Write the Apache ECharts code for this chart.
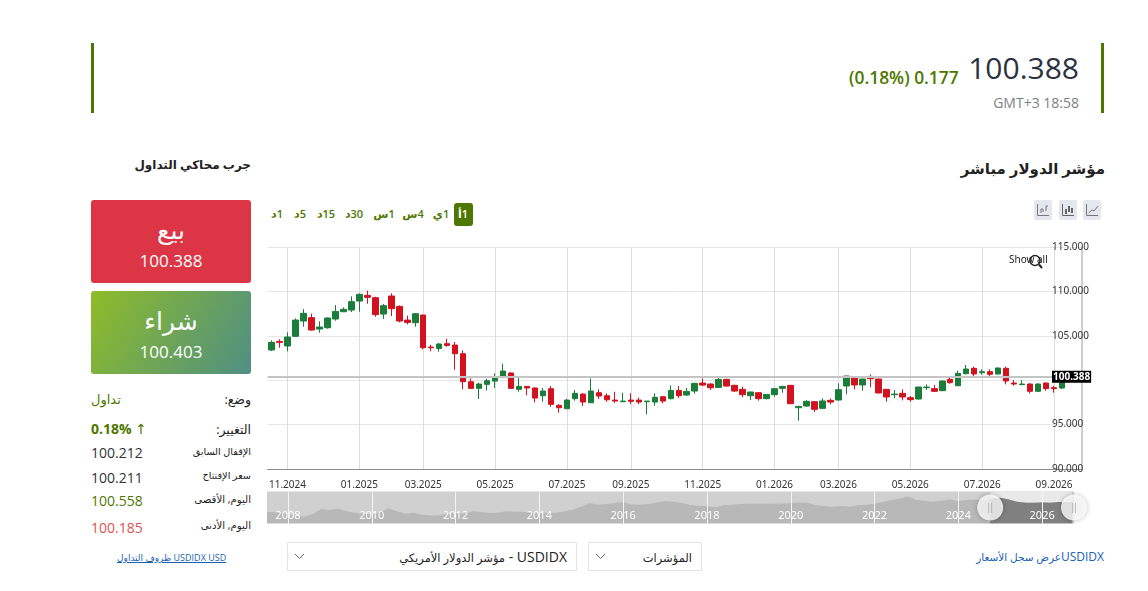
<!DOCTYPE html>
<html lang="ar">
<head>
<meta charset="utf-8">
<title>USDIDX</title>
<script src="https://cdn.jsdelivr.net/npm/echarts@6/dist/echarts.min.js"></script>
<style>
html,body{margin:0;padding:0;background:#fff;}
body{width:1148px;height:591px;position:relative;overflow:hidden;font-family:"Open Sans","DejaVu Sans",sans-serif;color:#222;}
.abs{position:absolute;white-space:nowrap;line-height:1;}
.r{direction:rtl;text-align:right;}
.bar{position:absolute;top:43px;width:3px;height:70px;background:#4e7700;}
.btn{position:absolute;left:91px;width:160px;height:83px;border-radius:3px;color:#fff;text-align:center;}
.btn b{position:absolute;left:0;width:100%;top:15px;font-weight:400;font-size:25px;line-height:28px;}
.btn i{position:absolute;left:0;width:100%;top:50px;font-style:normal;font-size:17px;line-height:22px;}
.tf{position:absolute;top:208px;font-size:11px;line-height:12px;color:#4e7700;transform:translateX(-50%);direction:rtl;font-weight:600;}
.ico{position:absolute;top:200px;width:18px;height:20px;background:#e4e8ee;border-radius:2px;}
.ico svg{position:absolute;left:2px;top:3px;}
.sel{position:absolute;top:542px;height:27px;border:1px solid #e2e5e8;}
.sel svg{position:absolute;left:6px;top:10px;}
.sel span{position:absolute;right:9px;top:6px;font-size:14px;line-height:16px;direction:rtl;white-space:nowrap;color:#222;}
.sel em{font-style:normal;font-size:11.5px;}
.lab{font-size:9.7px;}
.num{left:91px;font-size:14px;color:#333;}
#chart{position:absolute;left:266px;top:240px;width:834px;height:295px;}
</style>
</head>
<body>
<div class="bar" style="left:91px"></div>
<div class="bar" style="left:1101px"></div>
<div class="abs" style="right:69px;top:53px;font-size:30px;color:#2b3240;">100.388</div>
<div class="abs" style="left:849px;top:69px;font-size:17.4px;font-weight:600;color:#4e7700;direction:ltr;">(0.18%) 0.177</div>
<div class="abs" style="right:69px;top:96px;font-size:14px;color:#7d7f85;">GMT+3 18:58</div>

<div class="abs r" style="right:43px;top:161px;font-size:15px;font-weight:700;">مؤشر الدولار مباشر</div>
<div class="abs r" style="right:897px;top:159px;font-size:12px;font-weight:700;">جرب محاكي التداول</div>

<div class="btn" style="top:200px;background:#dc3545;"><b>بيع</b><i>100.388</i></div>
<div class="btn" style="top:291px;background:linear-gradient(120deg,#8ebc28,#4f8f84);"><b>شراء</b><i>100.403</i></div>

<div class="abs r" style="right:897px;top:394px;font-size:12.5px;">وضع:</div>
<div class="abs" style="left:91px;top:393px;font-size:13px;color:#4e7700;">تداول</div>
<div class="abs r" style="right:897px;top:424px;font-size:12.5px;">التغيير:</div>
<div class="abs" style="left:91px;top:422px;font-size:14px;font-weight:700;color:#4e7700;">0.18% <span style="font-weight:400">↑</span></div>
<div class="abs r lab" style="right:897px;top:447px;">الإقفال السابق</div>
<div class="abs num" style="top:446px;">100.212</div>
<div class="abs r lab" style="right:897px;top:471px;">سعر الإفتتاح</div>
<div class="abs num" style="top:471px;">100.211</div>
<div class="abs r lab" style="right:897px;top:494px;font-size:10.2px;">اليوم, الأقصى</div>
<div class="abs num" style="top:494px;color:#4e7700;">100.558</div>
<div class="abs r lab" style="right:897px;top:520px;font-size:10.2px;">اليوم, الأدنى</div>
<div class="abs num" style="top:521px;color:#d9534f;">100.185</div>
<div class="abs" style="left:117px;top:553px;font-size:9px;color:#1a5fb4;text-decoration:underline;direction:ltr;"><span dir="rtl">ظروف التداول</span> USDIDX USD</div>

<div id="tfs"></div>
<div style="position:absolute;left:454px;top:203px;width:19px;height:23px;background:#4e7700;border-radius:3px;"></div>

<div class="ico" style="left:1034px"><svg width="14" height="14" viewBox="0 0 14 14" fill="none" stroke="#777" stroke-width="1"><path d="M1.5 1v11.5H13M5 10V6h2v3M10 8V3h2"/></svg></div>
<div class="ico" style="left:1059px"><svg width="14" height="14" viewBox="0 0 14 14" fill="none" stroke="#666" stroke-width="1"><path d="M1.5 1v11.5H13"/><path d="M5 6v5M8 3v6M11 5v5" stroke-width="2"/></svg></div>
<div class="ico" style="left:1083px"><svg width="14" height="14" viewBox="0 0 14 14" fill="none" stroke="#777" stroke-width="1"><path d="M1.5 1v11.5H13M3.5 10L7 7l2 1 4-5"/></svg></div>

<div id="chart"></div>

<div class="sel" style="left:287px;width:288px;">
<svg width="11" height="7" viewBox="0 0 11 7" fill="none" stroke="#666"><path d="M1 1l4.5 4.5L10 1"/></svg>
<span>USDIDX - <em>مؤشر الدولار الأمريكي</em></span></div>
<div class="sel" style="left:588px;width:112px;">
<svg width="11" height="7" viewBox="0 0 11 7" fill="none" stroke="#666"><path d="M1 1l4.5 4.5L10 1"/></svg>
<span><em>المؤشرات</em></span></div>
<div class="abs" style="right:44px;top:551px;font-size:12px;color:#1a5fb4;direction:ltr;"><span dir="rtl" style="font-size:10.5px">عرض سجل الأسعار</span>USDIDX</div>

<script>
// weekly candles
const opens = [103.40,104.37,103.85,104.94,106.66,107.04,105.76,105.91,106.89,107.71,
  107.90,108.91,109.55,109.29,107.45,109.48,108.31,106.77,106.47,107.34,
  103.73,103.58,104.11,103.96,102.98,99.83,99.08,99.53,99.90,100.32,
  100.81,98.97,99.30,99.12,98.25,99.04,97.16,96.79,97.92,98.44,
  97.46,98.59,98.25,97.76,97.58,97.76,97.76,97.58,97.54,98.14,
  97.92,98.85,98.33,98.78,99.68,99.57,99.19,100.09,99.42,98.97,
  98.25,98.59,97.92,98.37,99.08,99.42,96.90,97.09,97.58,96.83,
  97.73,97.77,99.35,100.36,99.46,100.36,100.13,98.97,98.37,98.52,
  98.03,97.88,99.16,99.05,98.82,100.10,99.38,100.73,101.34,100.85,
  100.96,100.70,101.34,99.68,99.50,99.57,98.75,99.68,99.16,99.12];
const closes = [104.26,104.26,104.86,106.77,107.53,105.65,105.99,107.00,107.75,107.98,
  108.84,109.67,109.33,107.38,108.39,108.05,106.66,106.51,107.49,103.66,
  103.66,104.07,103.92,102.98,99.83,99.08,99.57,99.94,100.36,101.03,
  99.08,99.30,99.12,97.99,98.78,97.28,96.90,97.76,98.52,97.54,
  98.78,98.22,97.80,97.65,97.65,97.62,97.54,97.65,98.07,97.65,
  98.85,98.25,98.74,99.64,99.45,99.15,100.09,99.34,98.78,98.37,
  98.67,97.92,98.40,99.04,99.30,97.35,97.05,97.62,96.72,97.66,
  97.54,98.93,100.47,99.46,100.13,100.17,98.56,98.11,98.44,98.11,
  97.81,99.23,99.23,98.75,99.91,99.72,100.77,101.26,100.70,100.96,
  100.66,101.37,99.91,99.57,99.57,98.75,99.57,99.05,99.05,100.388];
const lows = [103.28,103.66,103.25,104.90,106.02,105.57,105.35,105.80,106.70,107.68,
  107.68,107.71,108.61,107.15,106.89,107.23,106.51,106.29,106.02,103.47,
  103.25,103.21,103.77,101.18,98.97,99.00,97.88,98.85,99.12,100.21,
  99.04,98.70,98.29,97.50,97.58,97.01,96.34,96.75,97.69,97.09,
  97.46,97.88,97.58,97.46,97.54,97.31,97.31,96.15,97.13,97.39,
  97.84,97.99,98.22,98.48,99.34,98.89,99.15,99.27,98.67,98.07,
  97.76,97.69,97.84,98.14,98.59,97.31,95.44,97.01,96.42,96.79,
  97.28,97.69,98.41,98.97,98.82,99.20,98.52,97.58,97.96,97.73,
  97.58,97.81,98.90,98.67,98.78,99.61,99.35,100.66,100.47,100.62,
  100.32,100.66,99.53,99.38,99.46,98.52,98.71,98.82,98.59,99.00];
const highs = [104.49,104.60,105.39,106.96,108.01,107.49,106.63,107.08,108.46,108.20,
  109.44,109.78,110.08,109.40,108.58,109.78,108.43,107.26,107.56,107.34,
  103.99,104.19,104.67,104.30,103.36,100.21,99.72,100.17,100.77,101.86,
  100.88,100.47,99.34,99.19,99.12,99.34,97.31,97.88,98.89,98.52,
  100.20,98.97,98.52,98.70,98.59,98.52,98.03,97.65,98.52,98.14,
  99.42,99.34,99.12,99.72,100.20,99.64,100.32,100.17,99.49,99.27,
  98.70,98.63,98.44,99.08,99.38,99.45,97.13,97.76,97.62,97.96,
  97.92,99.65,100.51,100.40,100.17,100.66,100.17,99.01,98.90,98.97,
  98.22,99.27,99.53,99.46,99.95,100.28,101.07,101.71,101.52,101.22,
  101.22,101.45,101.52,100.02,100.02,99.65,99.65,99.76,99.38,100.56];
const lastPrice = 100.388;
const blankWeeks = 2; // empty slots right of the last candle

const tickIndex = [2,11,19,28,37,45,54,63,71,80,89,98];
const tickLabels = ['11.2024','01.2025','03.2025','05.2025','07.2025','09.2025','11.2025','01.2026','03.2026','05.2026','07.2026','09.2026'];

// navigator (whole history)
const navYears = [2007.5,2007.6,2007.8,2008.0,2008.2,2008.4,2008.6,2008.8,2009.0,2009.2,2009.4,2009.6,2009.8,
  2010.0,2010.2,2010.4,2010.6,2010.8,2011.0,2011.2,2011.4,2011.6,2011.8,2012.0,2012.2,2012.4,2012.6,2012.8,
  2013.0,2013.2,2013.4,2013.6,2013.8,2014.0,2014.2,2014.4,2014.6,2014.8,2015.0,2015.2,2015.4,2015.6,2015.8,
  2016.0,2016.2,2016.4,2016.6,2016.8,2017.0,2017.2,2017.4,2017.6,2017.8,2018.0,2018.2,2018.4,2018.6,2018.8,
  2019.0,2019.2,2019.4,2019.6,2019.8,2020.0,2020.2,2020.4,2020.6,2020.8,2021.0,2021.2,2021.4,2021.6,2021.8,
  2022.0,2022.2,2022.4,2022.6,2022.8,2023.0,2023.2,2023.4,2023.6,2023.8,2024.0,2024.2,2024.4,2024.6,2024.8,
  2025.0,2025.2,2025.4,2025.6,2025.8,2026.0,2026.2,2026.4,2026.6,2026.72];
const navValues = [82.2,82.2,80.9,77.7,74.5,73.2,78.3,87.9,86.0,88.5,83.4,80.9,79.0,
  77.0,82.2,89.2,83.4,79.0,80.9,77.0,75.2,75.8,78.3,80.9,79.0,83.4,82.8,80.3,
  80.9,83.4,82.8,82.8,80.9,80.9,80.9,80.9,83.4,86.6,92.4,99.4,96.2,97.5,99.4,
  101.3,96.8,96.2,97.5,100.6,103.2,101.9,99.4,95.5,94.3,93.0,91.1,94.9,96.2,97.5,
  98.1,98.1,98.1,98.7,98.7,99.4,100.6,100.0,94.9,93.6,92.4,93.6,92.4,94.9,96.2,
  98.1,101.3,105.1,107.6,112.1,105.1,103.2,101.9,103.8,106.4,103.2,105.1,105.7,103.8,107.6,
  109.6,106.4,101.9,100.0,100.0,100.6,100.0,101.3,101.3,100.4];
const navTickYears = [2008,2010,2012,2014,2016,2018,2020,2022,2024,2026];
const navWindow = [2024.76,2026.72];

const timeframes = ['1د','5د','15د','30د','1س','4س','1ي','1أ'];
const timeframeX = [277,300,326,354,384,413,441,463];

document.getElementById('tfs').innerHTML = timeframes.map((t, i) =>
  '<div class="tf" style="left:' + timeframeX[i] + 'px;z-index:2;' + (i == 7 ? 'color:#fff;' : '') + '">' + t + '</div>').join('');

const categories = opens.map((v, i) => i).concat(Array.from({length: blankWeeks}, (v, i) => opens.length + i));
const candles = opens.map((o, i) => [o, closes[i], lows[i], highs[i]]);
const isTick = (i) => tickIndex.indexOf(i) >= 0;

const navAll = navYears.map((y, i) => [y, navValues[i]]);
const navSelected = navAll.filter(d => d[0] >= navWindow[0]);
const NAV_MIN = 60, NAV_MAX = 121.6;
navSelected.unshift([navWindow[0], 107.0]);

const chart = echarts.init(document.getElementById('chart'));
const font = '"Noto Sans"';

chart.setOption({
  animation: false,
  grid: [
    {left: 0, top: 7, width: 816, height: 222},
    {left: 1, top: 251.5, width: 807, height: 32, show: true, backgroundColor: '#d0d0d0', borderWidth: 0}
  ],
  xAxis: [
    {
      type: 'category', gridIndex: 0, data: categories, boundaryGap: true,
      axisLine: {lineStyle: {color: '#8c8c8c', width: 1}},
      axisTick: {show: true, alignWithLabel: true, length: 0, interval: (i) => isTick(i)},
      splitLine: {show: true, alignWithLabel: true, interval: (i) => isTick(i), lineStyle: {color: '#dcdcdc'}},
      axisLabel: {
        interval: (i) => isTick(i), margin: 11, color: '#333', fontSize: 10, fontFamily: font,
        formatter: (v, i) => tickLabels[tickIndex.indexOf(Number(v))] || ''
      }
    },
    {
      type: 'value', gridIndex: 1, min: 2007.5, max: 2026.76, z: 3,
      axisLine: {show: false},
      axisTick: {show: false, customValues: navTickYears},
      splitLine: {show: true, lineStyle: {color: '#f4f4f4'}},
      axisLabel: {
        inside: true, margin: 2, color: '#fff', fontSize: 11, fontFamily: font, customValues: navTickYears,
        formatter: (v) => String(v)
      }
    }
  ],
  yAxis: [
    {
      type: 'value', gridIndex: 0, position: 'right', min: 90, max: 115, interval: 5,
      axisLine: {show: true, lineStyle: {color: '#cfcfcf', width: 2}},
      axisTick: {show: false},
      splitLine: {show: true, lineStyle: {color: '#e6e6e6'}},
      axisLabel: {
        margin: -30, align: 'left', color: '#333', fontSize: 10, fontFamily: font, padding: [4, 0, 0, 0],
        formatter: (v) => (v == 100 ? '' : v.toFixed(3))
      }
    },
    {type: 'value', gridIndex: 1, min: NAV_MIN, max: NAV_MAX, show: false}
  ],
  series: [
    {
      type: 'candlestick', xAxisIndex: 0, yAxisIndex: 0, data: candles, barWidth: 6,
      itemStyle: {color: '#1a7d3a', color0: '#d2121f', borderColor: '#1a7d3a', borderColor0: '#d2121f', borderWidth: 1},
      markLine: {
        silent: true, symbol: 'none', animation: false,
        data: [{yAxis: lastPrice}],
        lineStyle: {color: '#c4c4c4', width: 2, type: 'solid'},
        label: {
          position: 'end', distance: -30, formatter: () => lastPrice.toFixed(3),
          backgroundColor: '#000', color: '#fff', fontWeight: 'bold', fontSize: 10, fontFamily: font,
          padding: [1, 1, 1, 1], align: 'left', verticalAlign: 'middle'
        }
      }
    },
    {
      type: 'line', xAxisIndex: 1, yAxisIndex: 1, data: [[navWindow[0], NAV_MAX], [navWindow[1], NAV_MAX]],
      symbol: 'none', lineStyle: {width: 0}, areaStyle: {color: '#e9e9e9', opacity: 1}, z: 1
    },
    {
      type: 'line', xAxisIndex: 1, yAxisIndex: 1, data: navAll,
      symbol: 'none', lineStyle: {width: 0}, areaStyle: {color: '#b8b8b8', opacity: 1}, z: 1
    },
    {
      type: 'line', xAxisIndex: 1, yAxisIndex: 1, data: navSelected,
      symbol: 'none', lineStyle: {width: 0}, areaStyle: {color: '#808080', opacity: 1}, z: 1
    },
    {
      type: 'scatter', xAxisIndex: 1, yAxisIndex: 1, clip: false, z: 5,
      data: [[navWindow[0], (NAV_MIN + NAV_MAX) / 2], [2026.76, (NAV_MIN + NAV_MAX) / 2]],
      symbol: 'circle', symbolSize: 26,
      itemStyle: {color: '#fff', shadowBlur: 5, shadowColor: 'rgba(0,0,0,0.3)'},
      label: {show: true, position: 'inside', formatter: '||', color: '#aaa', fontSize: 11}
    }
  ],
  graphic: [
    {type: 'text', left: 743, top: 15, style: {text: 'Show all', fontSize: 10, fill: '#222', fontFamily: font}, z: 10},
    {type: 'circle', shape: {cx: 769, cy: 20.5, r: 5}, style: {fill: 'none', stroke: '#222', lineWidth: 1.5}, z: 10},
    {type: 'line', shape: {x1: 773, y1: 24.5, x2: 776, y2: 28}, style: {stroke: '#222', lineWidth: 2}, z: 10}
  ]
});
</script>
</body>
</html>
